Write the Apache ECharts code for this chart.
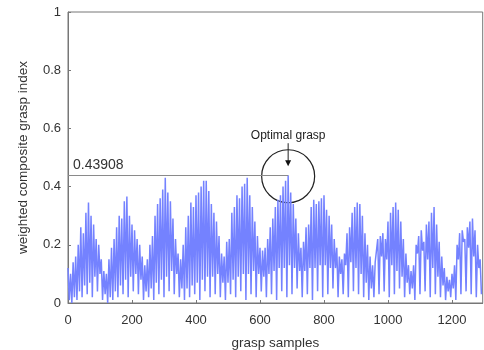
<!DOCTYPE html>
<html><head><meta charset="utf-8">
<script src="https://cdn.jsdelivr.net/npm/echarts@6/dist/echarts.min.js"></script>
<style>html,body{margin:0;padding:0;background:#fff}#c{width:484px;height:350px}</style>
</head><body><div id="c"></div>
<script>
// axis ticks
const xTicks = [0, 200, 400, 600, 800, 1000, 1200];
const yTicks = [0, 0.2, 0.4, 0.6, 0.8, 1];
const sampleCount = 1296;
// spike tops (at sample 8k) and troughs (at sample 8k+4)
const spikeTops = [
0.12,0.10,0.14,0.16,0.20,0.26,0.24,0.31,0.345,0.30,
0.27,0.22,0.20,0.15,0.11,0.10,0.15,0.19,0.22,0.26,
0.30,0.29,0.35,0.366,0.30,0.27,0.25,0.22,0.20,0.16,
0.13,0.15,0.20,0.23,0.30,0.34,0.36,0.39,0.43,0.38,
0.35,0.29,0.22,0.17,0.15,0.20,0.26,0.30,0.345,0.33,
0.37,0.38,0.40,0.42,0.42,0.385,0.34,0.31,0.28,0.23,
0.17,0.16,0.21,0.22,0.31,0.33,0.37,0.36,0.40,0.41,
0.43,0.37,0.33,0.28,0.23,0.19,0.18,0.19,0.22,0.26,
0.29,0.33,0.355,0.37,0.40,0.42,0.43908,0.38,0.34,0.29,
0.24,0.19,0.21,0.26,0.27,0.33,0.355,0.34,0.35,0.36,
0.37,0.32,0.30,0.27,0.22,0.19,0.16,0.15,0.17,0.24,
0.26,0.31,0.33,0.345,0.34,0.30,0.24,0.20,0.16,0.13,
0.14,0.22,0.23,0.24,0.22,0.28,0.31,0.33,0.345,0.32,
0.28,0.22,0.17,0.13,0.11,0.13,0.20,0.23,0.25,0.21,
0.27,0.28,0.31,0.33,0.27,0.21,0.16,0.12,0.09,0.08,
0.10,0.13,0.20,0.24,0.25,0.22,0.26,0.28,0.29,0.25,
0.20,0.15
];
const spikeLows = [
0.01,0.00,0.02,0.01,0.04,0.02,0.06,0.03,0.07,0.02,
0.09,0.04,0.10,0.01,0.03,0.00,0.02,0.01,0.04,0.02,
0.06,0.03,0.08,0.02,0.09,0.04,0.10,0.03,0.08,0.01,
0.04,0.02,0.05,0.01,0.07,0.03,0.08,0.02,0.09,0.04,
0.11,0.03,0.10,0.02,0.05,0.01,0.05,0.02,0.06,0.03,
0.07,0.01,0.08,0.04,0.09,0.02,0.09,0.03,0.10,0.02,
0.07,0.01,0.07,0.03,0.08,0.02,0.09,0.04,0.10,0.01,
0.10,0.03,0.11,0.02,0.10,0.04,0.09,0.02,0.10,0.03,
0.11,0.01,0.12,0.04,0.12,0.02,0.13,0.03,0.12,0.05,
0.11,0.02,0.11,0.03,0.12,0.01,0.12,0.04,0.13,0.02,
0.13,0.03,0.12,0.05,0.12,0.02,0.10,0.03,0.13,0.02,
0.14,0.04,0.12,0.03,0.10,0.02,0.07,0.01,0.05,0.02,
0.14,0.03,0.16,0.04,0.15,0.02,0.13,0.03,0.11,0.05,
0.09,0.02,0.07,0.03,0.05,0.01,0.17,0.03,0.18,0.04,
0.15,0.02,0.12,0.03,0.09,0.02,0.06,0.01,0.04,0.02,
0.05,0.01,0.15,0.03,0.21,0.04,0.19,0.03,0.16,0.02,
0.12,0.03
];
const optimalSample = 688;
const optimalValue = 0.43908;
const optimalLabel = '0.43908';
const annotationText = 'Optimal grasp';
const xName = 'grasp samples';
const yName = 'weighted composite grasp index';

const points = [];
for (let k = 0; k < spikeTops.length; k++) {
  points.push([8 * k, spikeTops[k]]);
  points.push([8 * k + 4, spikeLows[k]]);
}

const FONT = 'Liberation Sans, Arial, Helvetica, sans-serif';
const chart = echarts.init(document.getElementById('c'), null, {renderer: 'canvas'});
const axisCommon = {
  axisLine: {show: true, lineStyle: {color: '#777', width: 1}},
  axisTick: {show: true, inside: true, length: 3, lineStyle: {color: '#777'}},
  splitLine: {show: false},
  nameLocation: 'middle',
  nameTextStyle: {fontFamily: FONT, fontSize: 13.5, color: '#333'}
};
chart.setOption({
  animation: false,
  backgroundColor: '#fff',
  grid: {left: 68, right: 1.3, top: 12, bottom: 47, containLabel: false, outerBoundsMode: 'none',
    show: true, borderColor: '#777', borderWidth: 1, backgroundColor: 'transparent'},
  xAxis: Object.assign({}, axisCommon, {
    type: 'value', min: 0, max: sampleCount, interval: 200,
    name: xName, nameGap: 33,
    axisLabel: {fontFamily: FONT, fontSize: 13, color: '#333', margin: 11, showMaxLabel: false,
      formatter: v => xTicks.indexOf(v) >= 0 ? String(v) : ''}
  }),
  yAxis: Object.assign({}, axisCommon, {
    type: 'value', min: 0, max: 1, interval: 0.2,
    name: yName, nameGap: 38,
    axisLabel: {fontFamily: FONT, fontSize: 13, color: '#333', margin: 7,
      formatter: v => { const t = yTicks.find(y => Math.abs(y - v) < 1e-9); return t === undefined ? '' : String(t); }}
  }),
  series: [{
    type: 'line', data: points, showSymbol: false, symbol: 'none', silent: true,
    sampling: null,
    lineStyle: {color: '#7482ff', width: 1.5},
    markLine: {
      silent: true, symbol: 'none', animation: false,
      lineStyle: {color: '#8a8a8a', width: 1, type: 'solid'},
      label: {show: false},
      data: [[{coord: [0, optimalValue]}, {coord: [optimalSample, optimalValue]}]]
    }
  }]
});

const c = chart.convertToPixel({gridIndex: 0}, [optimalSample, optimalValue]);
const o = chart.convertToPixel({gridIndex: 0}, [0, optimalValue]);
const cx = c[0], cy = c[1] + 1;
chart.setOption({
  graphic: [
    {type: 'circle', shape: {cx: cx, cy: cy, r: 26.5}, style: {fill: 'none', stroke: '#222', lineWidth: 1.2}, silent: true},
    {type: 'line', shape: {x1: cx, y1: cy - 33, x2: cx, y2: cy - 14}, style: {stroke: '#222', lineWidth: 1}, silent: true},
    {type: 'polygon', shape: {points: [[cx - 3, cy - 16], [cx + 3, cy - 16], [cx, cy - 10]]}, style: {fill: '#111'}, silent: true},
    {type: 'text', x: cx, y: cy - 41, style: {text: annotationText, fontFamily: FONT, fontSize: 12, fill: '#222', align: 'center', verticalAlign: 'middle'}, silent: true},
    {type: 'text', x: o[0] + 5, y: o[1] - 10, style: {text: optimalLabel, fontFamily: FONT, fontSize: 14, fill: '#333', align: 'left', verticalAlign: 'middle'}, silent: true}
  ]
});
</script>
</body></html>
